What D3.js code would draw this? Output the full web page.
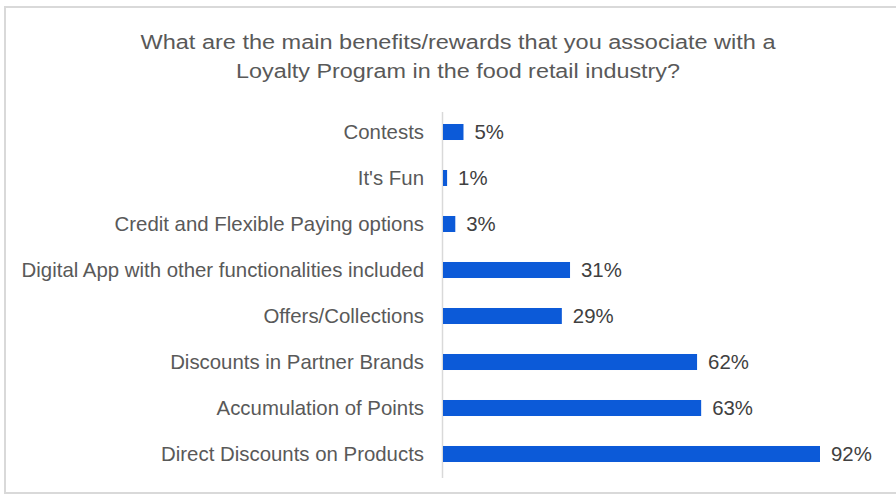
<!DOCTYPE html>
<html>
<head>
<meta charset="utf-8">
<script src="https://cdn.jsdelivr.net/npm/d3@7"></script>
<style>
  html, body { margin: 0; padding: 0; background: #fff; }
  svg { display: block; font-family: "Liberation Sans", Arial, sans-serif; }
</style>
</head>
<body>
<svg id="chart" width="896" height="495"></svg>
<script>
// Survey answers, top to bottom
const categories = [
  "Contests",
  "It's Fun",
  "Credit and Flexible Paying options",
  "Digital App with other functionalities included",
  "Offers/Collections",
  "Discounts in Partner Brands",
  "Accumulation of Points",
  "Direct Discounts on Products"
];
const values = [5, 1, 3, 31, 29, 62, 63, 92];
const titleLines = [
  "What are the main benefits/rewards that you associate with a",
  "Loyalty Program in the food retail industry?"
];
const titleWidths = [635, 444];

const svg = d3.select("#chart");

// Frame
svg.append("rect")
  .attr("x", 5).attr("y", 7)
  .attr("width", 900).attr("height", 486)
  .attr("fill", "none")
  .attr("stroke", "#d9d9d9")
  .attr("stroke-width", 2);

// Title
svg.selectAll("text.title")
  .data(titleLines)
  .join("text")
  .attr("class", "title")
  .attr("x", 458)
  .attr("y", (d, i) => 49 + i * 29)
  .attr("text-anchor", "middle")
  .attr("fill", "#595959")
  .attr("textLength", (d, i) => titleWidths[i])
  .attr("lengthAdjust", "spacingAndGlyphs")
  .style("font-size", "20px")
  .text(d => d);

const x0 = 443;
const x = d3.scaleLinear().domain([0, 92]).range([x0, 820]);
const y = d3.scaleBand().domain(categories).range([109, 477]).paddingInner(0.652).paddingOuter(0.326);

// Category axis line
svg.append("line")
  .attr("x1", x0 - 0.5).attr("x2", x0 - 0.5)
  .attr("y1", 112).attr("y2", 478)
  .attr("stroke", "#d9d9d9")
  .attr("stroke-width", 1.5);

// Bars
svg.selectAll("rect.bar")
  .data(values)
  .join("rect")
  .attr("class", "bar")
  .attr("x", x0)
  .attr("y", (d, i) => y(categories[i]))
  .attr("width", d => x(d) - x0)
  .attr("height", y.bandwidth())
  .attr("fill", "#0c5ad8");

// Category labels
svg.selectAll("text.cat")
  .data(categories)
  .join("text")
  .attr("class", "cat")
  .attr("x", 424)
  .attr("y", d => y(d) + y.bandwidth() / 2)
  .attr("dy", "0.35em")
  .attr("text-anchor", "end")
  .attr("fill", "#595959")
  .style("font-size", "20.4px")
  .text(d => d);

// Value labels
svg.selectAll("text.val")
  .data(values)
  .join("text")
  .attr("class", "val")
  .attr("x", d => x(d) + 11)
  .attr("y", (d, i) => y(categories[i]) + y.bandwidth() / 2)
  .attr("dy", "0.35em")
  .attr("fill", "#404040")
  .style("font-size", "20.4px")
  .text(d => d + "%");
</script>
</body>
</html>
